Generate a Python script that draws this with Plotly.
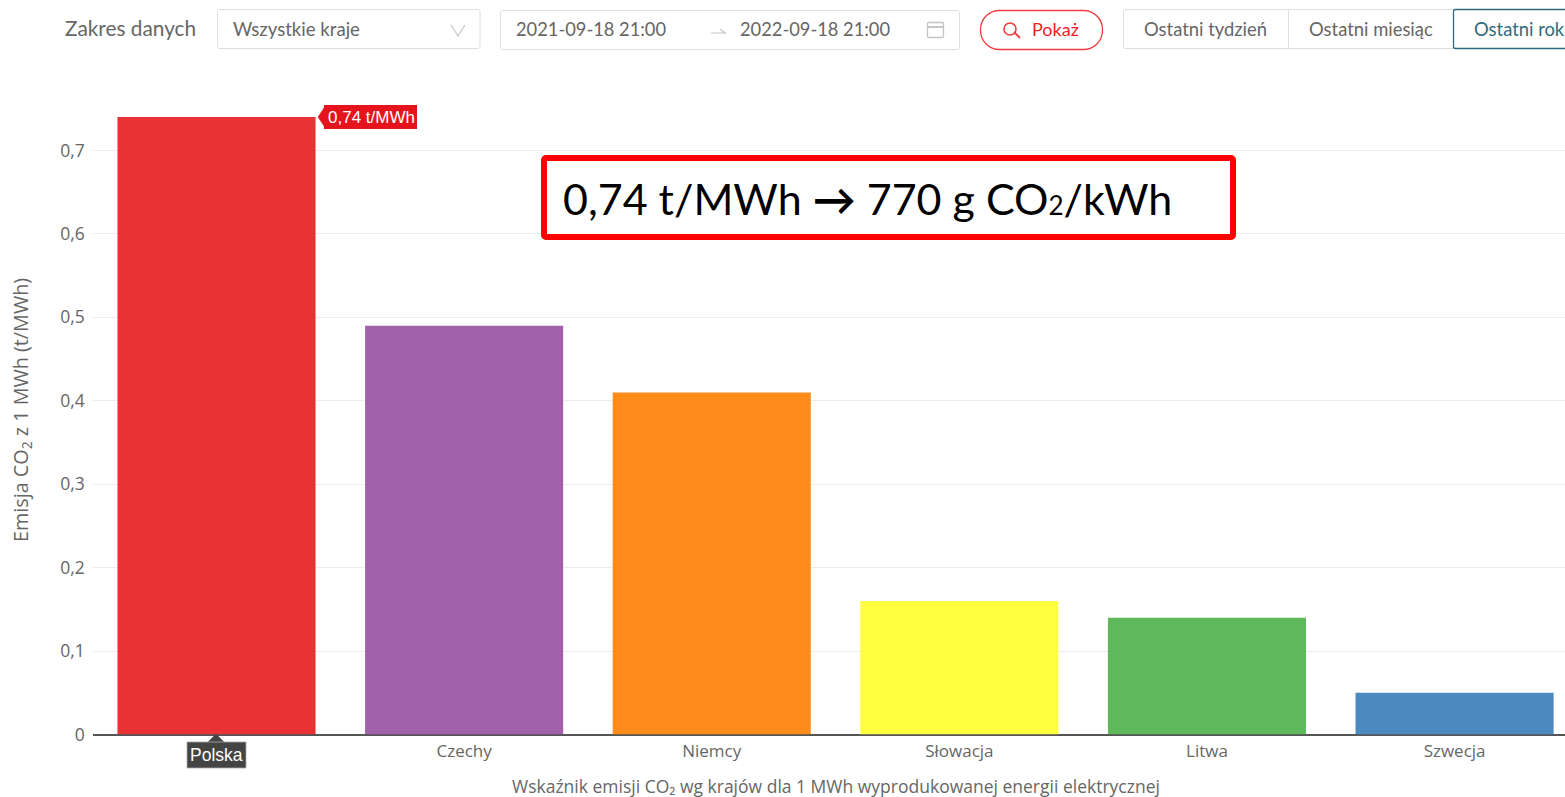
import plotly.graph_objects as go

W, H = 1565, 797
categories = ["Polska", "Czechy", "Niemcy", "Słowacja", "Litwa", "Szwecja"]
values = [0.74, 0.49, 0.41, 0.16, 0.14, 0.05]
colors = ["#e93234", "#a25faa", "#ff8b1a", "#ffff40", "#5fb85b", "#4b89bf"]
y_ticks = [0, 0.1, 0.2, 0.3, 0.4, 0.5, 0.6, 0.7]
y_labels = ["0", "0,1", "0,2", "0,3", "0,4", "0,5", "0,6", "0,7"]

px = lambda x: x / W
py = lambda y: 1 - y / H
UI = "Lato"
CH = "Open Sans"

def rrect(x0, y0, x1, y1, r):
    k = r * 0.45
    pts = [
        f"M{px(x0+r)},{py(y0)}", f"L{px(x1-r)},{py(y0)}",
        f"C{px(x1-k)},{py(y0)} {px(x1)},{py(y0+k)} {px(x1)},{py(y0+r)}",
        f"L{px(x1)},{py(y1-r)}",
        f"C{px(x1)},{py(y1-k)} {px(x1-k)},{py(y1)} {px(x1-r)},{py(y1)}",
        f"L{px(x0+r)},{py(y1)}",
        f"C{px(x0+k)},{py(y1)} {px(x0)},{py(y1-k)} {px(x0)},{py(y1-r)}",
        f"L{px(x0)},{py(y0+r)}",
        f"C{px(x0)},{py(y0+k)} {px(x0+k)},{py(y0)} {px(x0+r)},{py(y0)}", "Z",
    ]
    return " ".join(pts)

def poly(points, close=True):
    s = " ".join(("M" if i == 0 else "L") + f"{px(a)},{py(b)}" for i, (a, b) in enumerate(points))
    return s + (" Z" if close else "")

fig = go.Figure(go.Bar(
    x=categories, y=values, marker=dict(color=colors, line_width=0), width=0.8,
    hoverinfo="skip", showlegend=False))

shapes = []
def box(x0, y0, x1, y1, r=2, line="#dedede", fill="white", w=1):
    shapes.append(dict(type="path", xref="paper", yref="paper", path=rrect(x0, y0, x1, y1, r),
                       line=dict(color=line, width=w), fillcolor=fill, layer="above"))
def stroke(points, color, w=1.2, close=False, fill=None):
    shapes.append(dict(type="path", xref="paper", yref="paper", path=poly(points, close),
                       line=dict(color=color, width=w), fillcolor=fill or "rgba(0,0,0,0)", layer="above"))

box(217.5, 9.5, 480, 48.5)
box(500.5, 10.5, 959.5, 49.5)
box(980.5, 10.5, 1102.5, 49.5, r=19, line="#ee3b3f", w=1.3)
box(1123.5, 9.5, 1460, 48.5)
stroke([(1288.5, 10), (1288.5, 48)], "#dedede", 1)
box(1453.5, 9.5, 1600, 48.5, line="#2f6b7e", w=1.3)
stroke([(451, 25), (458, 36), (465, 25)], "#c4c4c4", 1.2)
stroke([(711, 33), (725, 33), (720, 29)], "#c4c4c4", 1.2)
box(927.5, 22.5, 943.5, 37.5, r=1, line="#c4c4c4", fill="white", w=1.3)
stroke([(928, 27), (943, 27)], "#c4c4c4", 2)
stroke([(1014, 32), (1020, 38)], "#ee3b3f", 1.8)
shapes.append(dict(type="circle", xref="paper", yref="paper", x0=px(1004), x1=px(1016),
                   y0=py(35), y1=py(23), line=dict(color="#ee3b3f", width=1.6), layer="above"))

box(544, 158, 1233, 237, r=2, line="#ff0000", w=6)

tag_red = "#e5141c"
stroke([(324, 108), (318, 117), (324, 126)], tag_red, 0.5, True, tag_red)
shapes.append(dict(type="rect", xref="paper", yref="paper", x0=px(324), x1=px(417), y0=py(105), y1=py(129),
                   fillcolor=tag_red, line_width=0, layer="above"))
stroke([(208, 742), (216, 734), (224, 742)], "#444444", 0.5, True, "#444444")
shapes.append(dict(type="rect", xref="paper", yref="paper", x0=px(187), x1=px(246), y0=py(742), y1=py(768),
                   fillcolor="#444444", line=dict(color="#aaaaaa", width=0.8), layer="above"))

def note(text, x, y, size, color="#666666", family=UI, anchor="left", **kw):
    return dict(text=text, x=px(x), y=py(y), xref="paper", yref="paper", showarrow=False, xanchor=anchor,
                yanchor="middle", font=dict(size=size, color=color, family=family), **kw)

annotations = [
    note("Zakres danych", 63, 28, 20.8),
    note("Wszystkie kraje", 231, 29.5, 18.6),
    note("2021-09-18 21:00", 514, 29, 18.3),
    note("2022-09-18 21:00", 738, 29, 18.3),
    note("Pokaż", 1030, 29.5, 18, color="#ee1c25"),
    note("Ostatni tydzień", 1142, 29.5, 18.4),
    note("Ostatni miesiąc", 1307, 29.5, 18.4),
    note("Ostatni rok", 1472, 29.5, 18.4, color="#2f6b7e"),
    note("0,74 t/MWh", 326, 117, 17, color="white", family="Liberation Sans"),
    note("Polska", 216.5, 755, 17.5, color="white", family="Liberation Sans", anchor="center"),
    note('0,74 t/MWh <b>→</b> 770 g CO<span style="font-size:26px">2</span>/kWh', 561, 198.5, 43, color="black", family="Lato"),
    note("Wskaźnik emisji CO₂ wg krajów dla 1 MWh wyprodukowanej energii elektrycznej",
         835.5, 786, 17.5, color="#666666", family=CH, anchor="center"),
    note("Emisja CO<sub>2</sub> z 1 MWh (t/MWh)", 21, 410, 19.8, color="#666666", family=CH, anchor="center", textangle=-90),
]

top_px = 100
y_per_unit = 834.3
fig.update_layout(
    template="none",
    width=W, height=H, margin=dict(l=0, r=0, t=0, b=0), paper_bgcolor="white", plot_bgcolor="white",
    shapes=shapes, annotations=annotations, bargap=0.2,
    xaxis=dict(domain=[px(92.7), 1], range=[-0.5, 5.446], type="category", tickmode="array", automargin=False,
               tickvals=categories[1:], ticktext=categories[1:], ticks="outside", ticklen=1, tickcolor="rgba(0,0,0,0)",
               showgrid=False, zeroline=False, showline=False, tickfont=dict(size=17, color="#666666", family=CH)),
    yaxis=dict(domain=[py(734.5), py(top_px)], range=[0, (734.5 - top_px) / y_per_unit], tickmode="array", automargin=False,
               tickvals=y_ticks, ticktext=y_labels, ticks="outside", ticklen=3.5, tickcolor="rgba(0,0,0,0)",
               showgrid=True, gridcolor="#ececec", gridwidth=1,
               zeroline=True, zerolinecolor="#555555", zerolinewidth=2, showline=False,
               tickfont=dict(size=17.5, color="#666666", family=CH)),
)
fig.write_html("out.html", config=dict(displayModeBar=False), post_script="document.body.style.margin='0';")
